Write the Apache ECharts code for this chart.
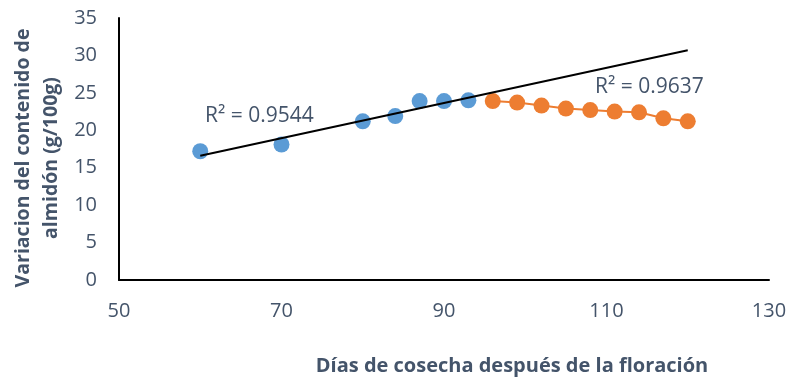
<!DOCTYPE html>
<html>
<head>
<meta charset="utf-8">
<script src="https://cdn.jsdelivr.net/npm/echarts@6/dist/echarts.min.js"></script>
<style>
  html, body { margin: 0; padding: 0; background: #fff; }
  #chart { width: 788px; height: 381px; }
</style>
</head>
<body>
<div id="chart"></div>
<script>
// Starch content change vs. harvest day after flowering
const daysEarly = [60, 70, 80, 84, 87, 90, 93];
const starchEarly = [17.2, 18.1, 21.2, 21.9, 23.9, 23.9, 24.0];
const daysLate = [96, 99, 102, 105, 108, 111, 114, 117, 120];
const starchLate = [23.9, 23.7, 23.3, 22.9, 22.7, 22.5, 22.4, 21.6, 21.2];
// Linear trend endpoints
const trendDays = [60, 120];
const trendStarch = [16.6, 30.7];
const xTicks = [50, 70, 90, 110, 130];
const yTicks = [0, 5, 10, 15, 20, 25, 30, 35];
const r2Early = 'R² = 0.9544';
const r2Late = 'R² = 0.9637';
const xTitle = 'Días de cosecha después de la floración';
const yTitle = 'Variacion del contenido de\nalmidón (g/100g)';

const FONT = '"Open Sans"';
const TEXT = '#44546A';

const zip = (a, b) => a.map((v, i) => [v, b[i]]);

const chart = echarts.init(document.getElementById('chart'));
chart.setOption({
  animation: false,
  textStyle: { fontFamily: FONT },
  grid: { left: 119, right: 19, top: 18, bottom: 101, outerBoundsMode: 'none', containLabel: false },
  xAxis: {
    type: 'value',
    min: xTicks[0], max: xTicks[xTicks.length - 1], interval: 20,
    splitLine: { show: false },
    axisTick: { show: false },
    axisLine: { lineStyle: { color: '#000', width: 2 } },
    axisLabel: { color: TEXT, fontSize: 20, margin: 21, fontFamily: FONT }
  },
  yAxis: {
    type: 'value',
    min: yTicks[0], max: yTicks[yTicks.length - 1], interval: 5,
    splitLine: { show: false },
    axisTick: { show: false },
    axisLine: { show: true, lineStyle: { color: '#000', width: 2 } },
    axisLabel: { color: TEXT, fontSize: 20, margin: 22, fontFamily: FONT }
  },
  series: [
    {
      type: 'line',
      data: zip(trendDays, trendStarch),
      showSymbol: false,
      lineStyle: { color: '#000', width: 2 },
      z: 3
    },
    {
      type: 'line',
      data: zip(daysLate, starchLate),
      showSymbol: false,
      lineStyle: { color: '#ED7D31', width: 2 },
      z: 2
    },
    {
      type: 'scatter',
      data: zip(daysEarly, starchEarly),
      symbolSize: 16,
      itemStyle: { color: '#5B9BD5', opacity: 1 },
      z: 2
    },
    {
      type: 'scatter',
      data: zip(daysLate, starchLate),
      symbolSize: 16,
      itemStyle: { color: '#ED7D31', opacity: 1 },
      z: 2
    }
  ],
  graphic: [
    { type: 'text', x: 205, y: 116, style: { text: r2Early, fill: TEXT, fontSize: 21, fontFamily: FONT, verticalAlign: 'middle' } },
    { type: 'text', x: 595, y: 87, style: { text: r2Late, fill: TEXT, fontSize: 21, fontFamily: FONT, verticalAlign: 'middle' } },
    { type: 'text', x: 512, y: 366, style: { text: xTitle, fill: TEXT, fontSize: 20, fontWeight: 'bold', fontFamily: FONT, align: 'center', verticalAlign: 'middle' } },
    { type: 'text', x: 37, y: 158, rotation: Math.PI / 2, style: { text: yTitle, fill: TEXT, fontSize: 19.5, fontWeight: 'bold', fontFamily: FONT, align: 'center', verticalAlign: 'middle', lineHeight: 28 } }
  ]
});
</script>
</body>
</html>
